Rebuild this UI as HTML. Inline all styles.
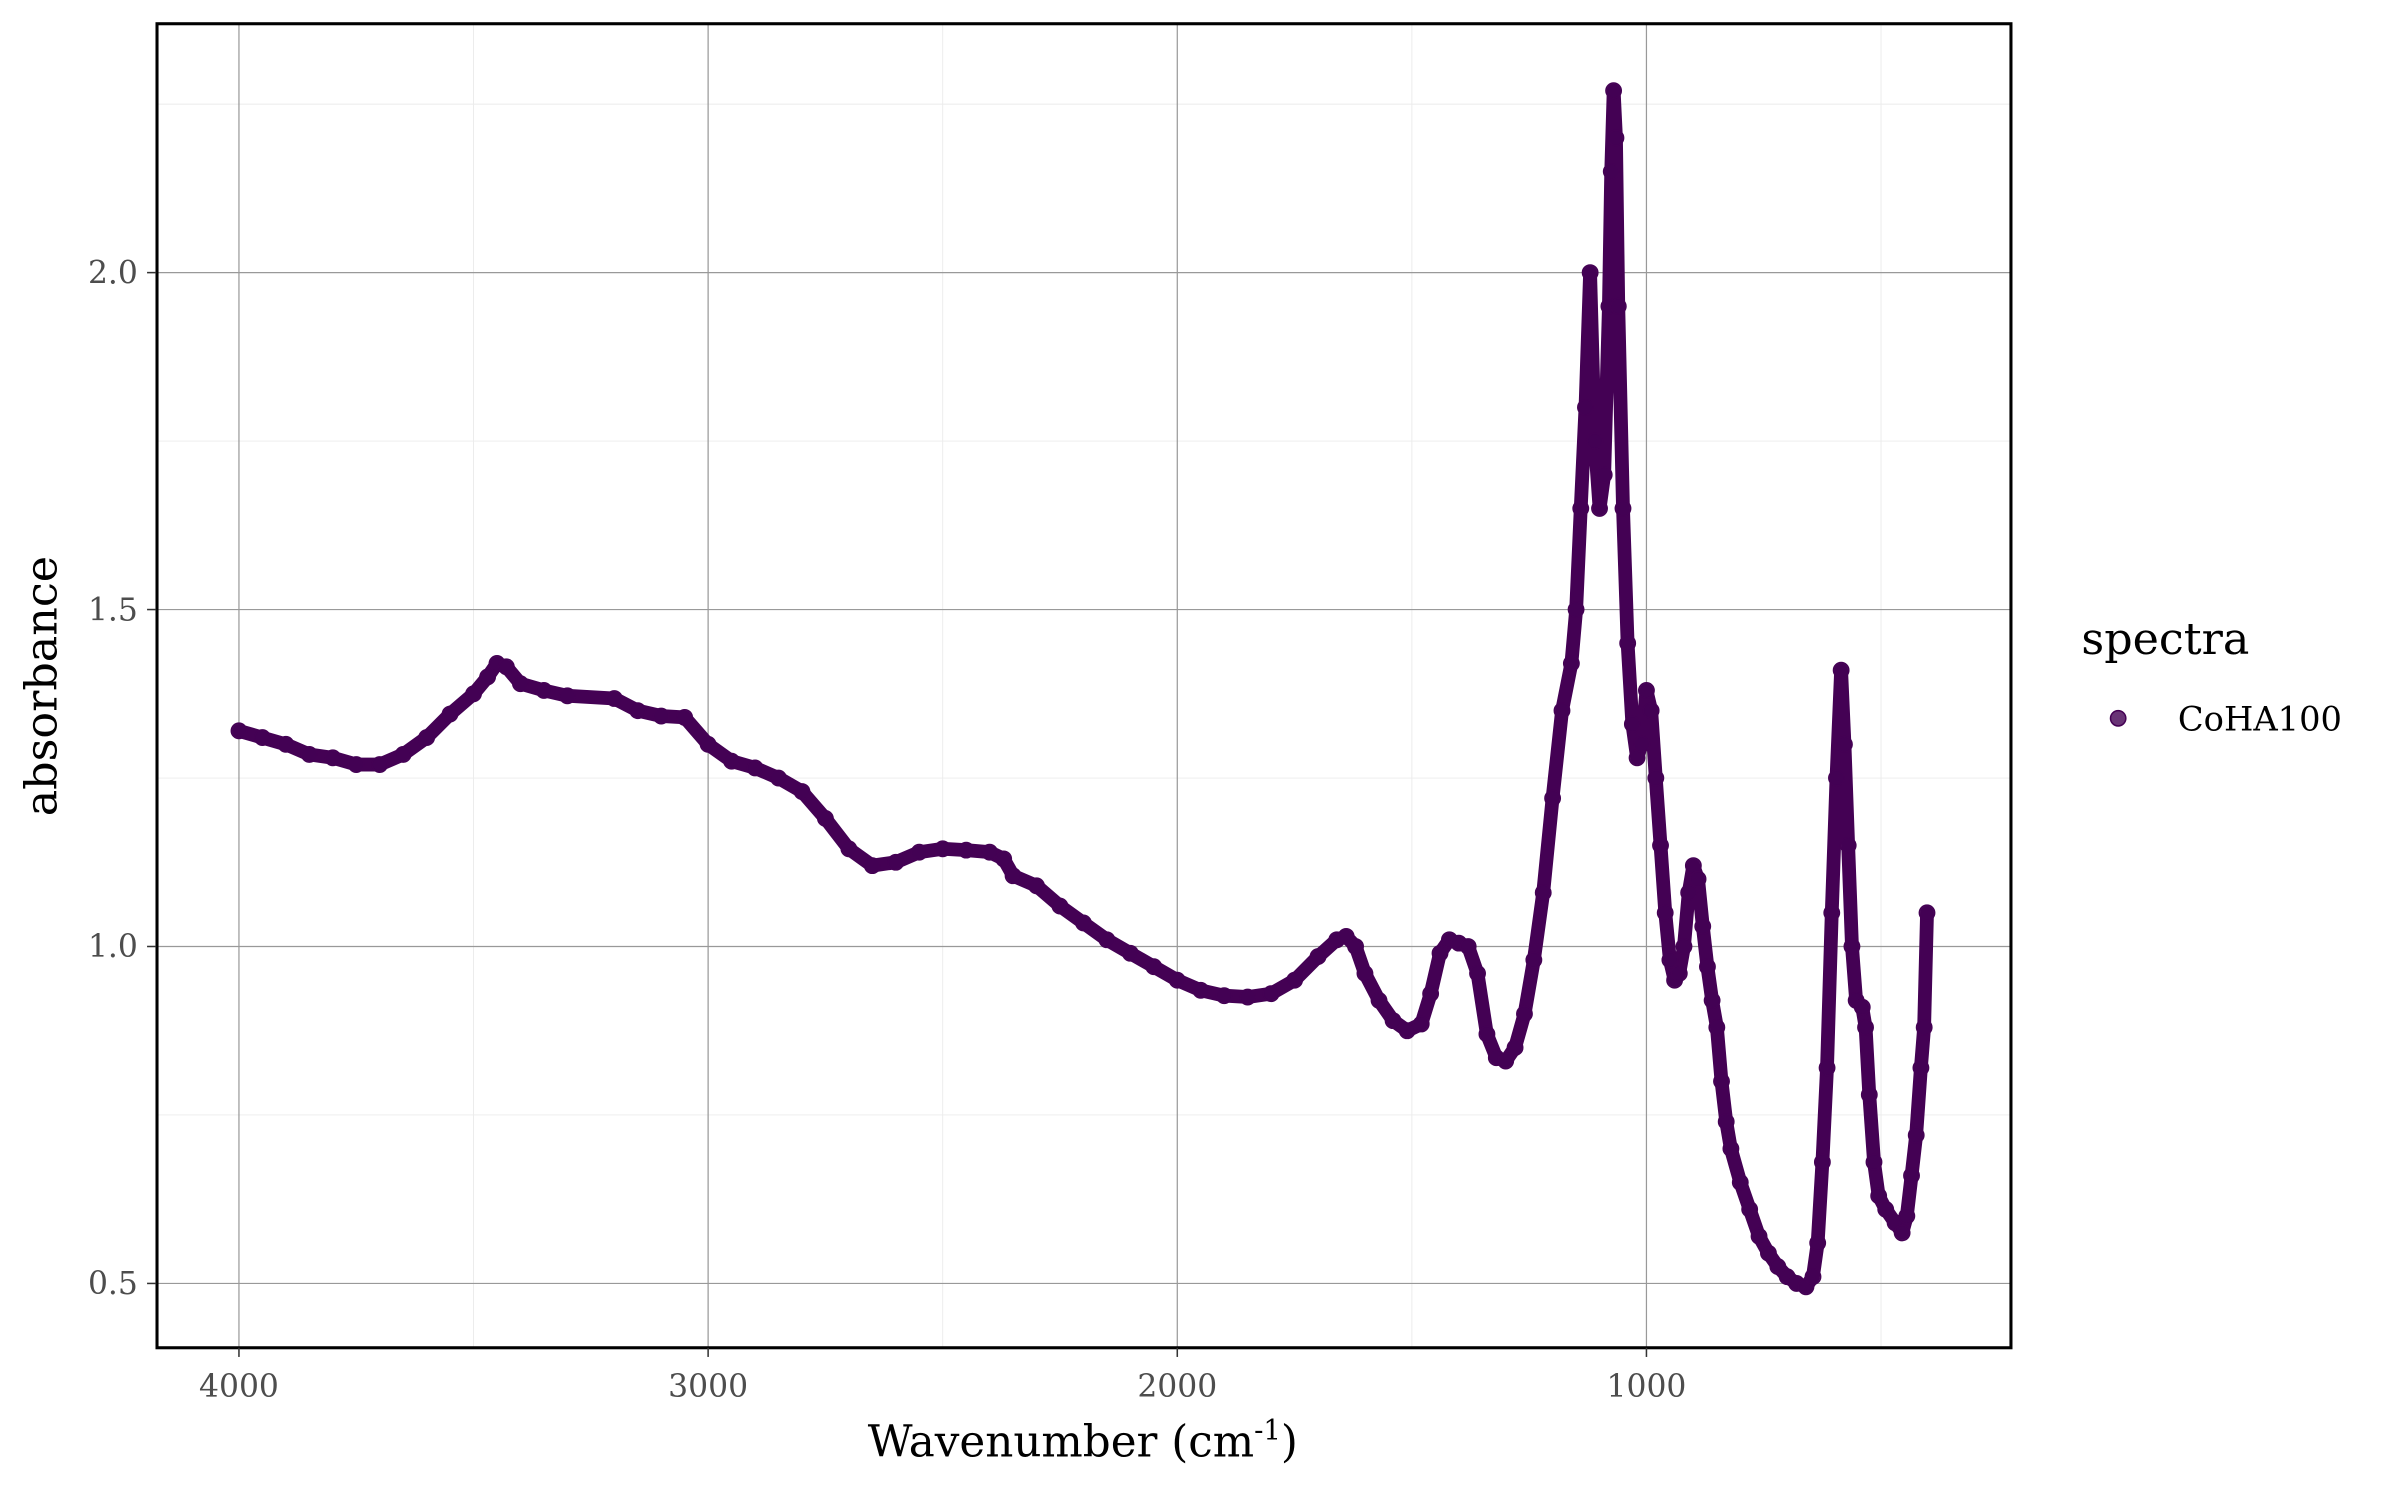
<!DOCTYPE html>
<html><head><meta charset="utf-8"><style>
html,body{margin:0;padding:0;background:#fff;}
svg{display:block;font-family:"DejaVu Serif","Liberation Serif",serif;}
</style></head><body>
<svg id="chart" width="2400" height="1500" viewBox="0 0 1567 979.4" xmlns="http://www.w3.org/2000/svg">
<rect width="1567" height="980" fill="#fff"/>
<g id="grid"></g>
<g id="series"></g>
<rect x="102.5" y="15.5" width="1210.5" height="864.5" fill="none" stroke="#000" stroke-width="2"/>
<g id="axes"></g>
<text x="707" y="951" font-size="28.5" text-anchor="middle" fill="#000">Wavenumber (cm<tspan font-size="18" dy="-11">-1</tspan><tspan dy="11">)</tspan></text>
<text transform="translate(37,448) rotate(-90)" font-size="29" text-anchor="middle" fill="#000">absorbance</text>
<text x="1359" y="427" font-size="29" fill="#000">spectra</text>
<circle cx="1383" cy="469" r="5" fill="#440154" fill-opacity="0.8" stroke="#440154"/>
<text x="1422" y="477" font-size="22" fill="#000">CoHA100</text>
<script>
const wavenumbers=[4000,3950,3900,3850,3800,3750,3700,3650,3600,3550,3500,3470,3450,3430,3400,3350,3300,3200,3150,3100,3050,3000,2950,2900,2850,2800,2750,2700,2650,2600,2550,2500,2450,2400,2370,2350,2300,2250,2200,2150,2100,2050,2000,1950,1900,1850,1800,1750,1700,1660,1640,1620,1600,1570,1540,1510,1480,1460,1440,1420,1400,1380,1360,1340,1320,1300,1280,1260,1240,1220,1200,1180,1160,1150,1140,1130,1120,1110,1100,1090,1080,1075,1070,1065,1060,1050,1040,1030,1020,1010,1000,990,980,970,960,950,940,930,920,910,900,890,880,870,860,850,840,830,820,800,780,760,740,720,700,680,660,645,635,625,615,605,595,585,578,570,562,553,540,533,525,515,505,490,470,455,445,435,425,415,408,402];
const absorbance=[1.32,1.31,1.30,1.285,1.28,1.27,1.27,1.285,1.31,1.345,1.375,1.40,1.42,1.415,1.39,1.38,1.372,1.368,1.35,1.342,1.34,1.30,1.275,1.265,1.25,1.23,1.19,1.145,1.12,1.125,1.14,1.145,1.143,1.14,1.13,1.105,1.09,1.06,1.035,1.01,0.99,0.97,0.95,0.935,0.927,0.925,0.93,0.95,0.985,1.01,1.015,1.0,0.96,0.92,0.89,0.875,0.885,0.93,0.99,1.01,1.005,1.0,0.96,0.87,0.835,0.83,0.85,0.9,0.98,1.08,1.22,1.35,1.42,1.50,1.65,1.80,2.0,1.75,1.65,1.70,1.95,2.15,2.27,2.2,1.95,1.65,1.45,1.33,1.28,1.30,1.38,1.35,1.25,1.15,1.05,0.98,0.95,0.96,1.0,1.08,1.12,1.10,1.03,0.97,0.92,0.88,0.80,0.74,0.70,0.65,0.61,0.57,0.545,0.525,0.51,0.50,0.495,0.51,0.56,0.68,0.82,1.05,1.25,1.41,1.3,1.15,1.0,0.92,0.91,0.88,0.78,0.68,0.63,0.61,0.59,0.575,0.6,0.66,0.72,0.82,0.88,1.05];
const xTicks=[4000,3000,2000,1000];
const xMinor=[3500,2500,1500,500];
const yTicks=[0.5,1.0,1.5,2.0];
const yMinor=[0.75,1.25,1.75,2.25];
const yTickLabels=["0.5","1.0","1.5","2.0"];
const NS="http://www.w3.org/2000/svg";
function xs(w){return 156+(4000-w)*(919/3000);}
function ys(v){return 838-(v-0.5)*440;}
const grid=document.getElementById('grid'),axes=document.getElementById('axes'),ser=document.getElementById('series');
function mk(tag,attrs,parent){const e=document.createElementNS(NS,tag);for(const k in attrs)e.setAttribute(k,attrs[k]);parent.appendChild(e);return e;}
xMinor.forEach(w=>{const l=mk('line',{x1:xs(w),x2:xs(w),y1:15,y2:880,stroke:'#ebebeb','stroke-width':0.6},grid);

});
yMinor.forEach(v=>{const l=mk('line',{x1:102,x2:1313,y1:ys(v),y2:ys(v),stroke:'#ebebeb','stroke-width':0.6},grid);

});
xTicks.forEach(w=>{const l=mk('line',{x1:xs(w),x2:xs(w),y1:15,y2:880,stroke:'#999','stroke-width':0.8},grid);


const t=mk('line',{x1:xs(w),x2:xs(w),y1:880,y2:886,stroke:'#333','stroke-width':1},axes);


const tx=mk('text',{x:xs(w),y:912,'font-size':20.5,'text-anchor':'middle',fill:'#4d4d4d'},axes);tx.textContent=String(w);

});
yTicks.forEach((v,i)=>{const l=mk('line',{x1:102,x2:1313,y1:ys(v),y2:ys(v),stroke:'#999','stroke-width':0.8},grid);


const t=mk('line',{x1:96,x2:102,y1:ys(v),y2:ys(v),stroke:'#333','stroke-width':1},axes);


const tx=mk('text',{x:90,y:ys(v)+7,'font-size':20.5,'text-anchor':'end',fill:'#4d4d4d'},axes);tx.textContent=yTickLabels[i];

});
const d=wavenumbers.map((w,i)=>(i?'L':'M')+xs(w).toFixed(1)+','+ys(absorbance[i]).toFixed(1)).join('');
const p=mk('path',{d:d,fill:'none',stroke:'#440154','stroke-width':9,'stroke-linejoin':'round','stroke-linecap':'round'},ser);


wavenumbers.forEach((w,i)=>{const c=mk('circle',{cx:xs(w),cy:ys(absorbance[i]),r:5,fill:'#440154','fill-opacity':0.8,stroke:'#440154','stroke-width':1},ser);

});
</script>
</svg>
</body></html>
